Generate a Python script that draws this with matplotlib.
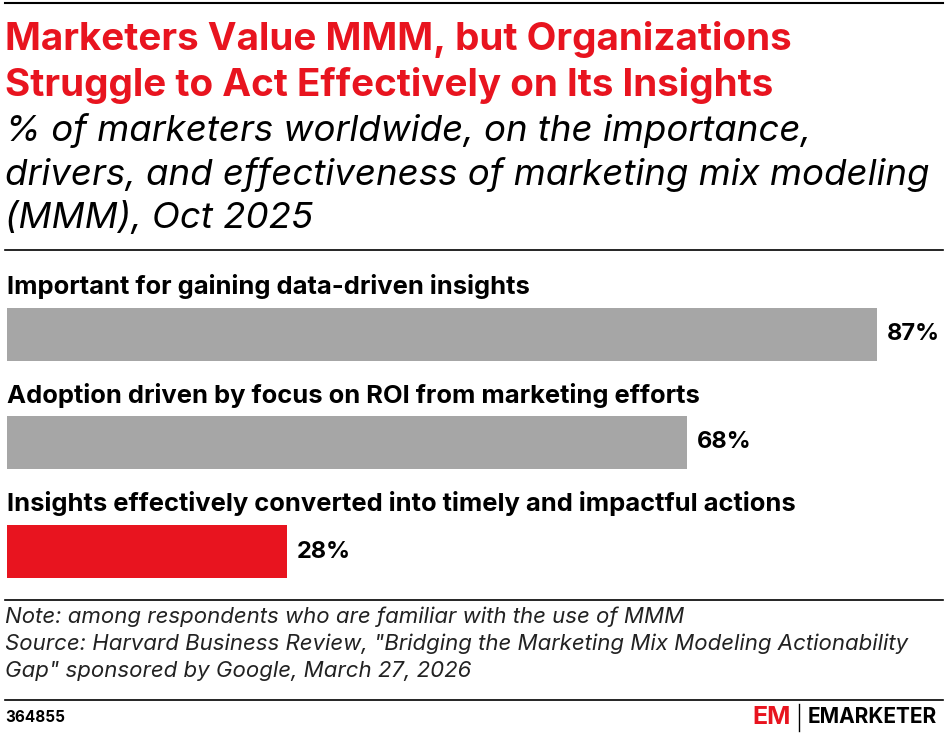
import matplotlib

matplotlib.use("Agg")
import matplotlib.pyplot as plt
from matplotlib.lines import Line2D

labels = [
    "Important for gaining data-driven insights",
    "Adoption driven by focus on ROI from marketing efforts",
    "Insights effectively converted into timely and impactful actions",
]
values = [87, 68, 28]
colors = ["#a6a6a6", "#a6a6a6", "#e8141f"]

W, H = 948, 738
plt.rcParams["font.family"] = ["Inter", "DejaVu Sans"]
fig = plt.figure(figsize=(W / 100, H / 100), dpi=100)


def fx(x):
    return x / W


def fy(y):
    return 1 - y / H


def hline(y, lw=1.2):
    fig.add_artist(Line2D([fx(5), fx(943)], [fy(y), fy(y)], color="black", lw=lw))


hline(3, 1.5)
for i, line in enumerate(["Marketers Value MMM, but Organizations",
                          "Struggle to Act Effectively on Its Insights"]):
    fig.text(fx(5), fy(40 + 45 * i), line, color="#e8141f", fontsize=27.8,
             fontweight="bold", va="center")
for i, line in enumerate(["% of marketers worldwide, on the importance,",
                          "drivers, and effectiveness of marketing mix modeling",
                          "(MMM), Oct 2025"]):
    fig.text(fx(5), fy(130 + 44 * i), line, fontsize=26.4, style="italic", va="center")
hline(250)

# bars: 10 px per percentage point, starting at x=7
ax = fig.add_axes([fx(7), fy(590), fx(941), fy(295) - fy(590)])
ax.set_xlim(0, 94.1)
ax.set_ylim(590, 295)
bar_tops = [308, 416, 525]
bh = 53
for lab, v, c, t in zip(labels, values, colors, bar_tops):
    ax.barh(t + bh / 2, v, height=bh, color=c)
    ax.text(v + 1.0, t + bh / 2, f"{v}%", va="center", fontsize=17, fontweight="bold")
    fig.text(fx(7), fy(t - 21), lab, va="center", fontsize=18.4, fontweight="bold")
ax.axis("off")

hline(600)
for i, line in enumerate(["Note: among respondents who are familiar with the use of MMM",
                          "Source: Harvard Business Review, \"Bridging the Marketing Mix Modeling Actionability",
                          "Gap\" sponsored by Google, March 27, 2026"]):
    fig.text(fx(5), fy(617 + 27 * i), line, fontsize=16, style="italic", va="center",
             color="#222222")
hline(700)
fig.text(fx(5), fy(717), "364855", fontsize=11, fontweight="bold", va="center")
fig.text(fx(752), fy(717), "EM", fontsize=18, fontweight="bold", color="#e8141f", va="center")
fig.add_artist(Line2D([fx(799), fx(799)], [fy(704), fy(731)], color="black", lw=1))
fig.text(fx(808), fy(717), "EMARKETER", fontsize=15, fontweight="bold", va="center")

fig.savefig("out.png", dpi=100)
